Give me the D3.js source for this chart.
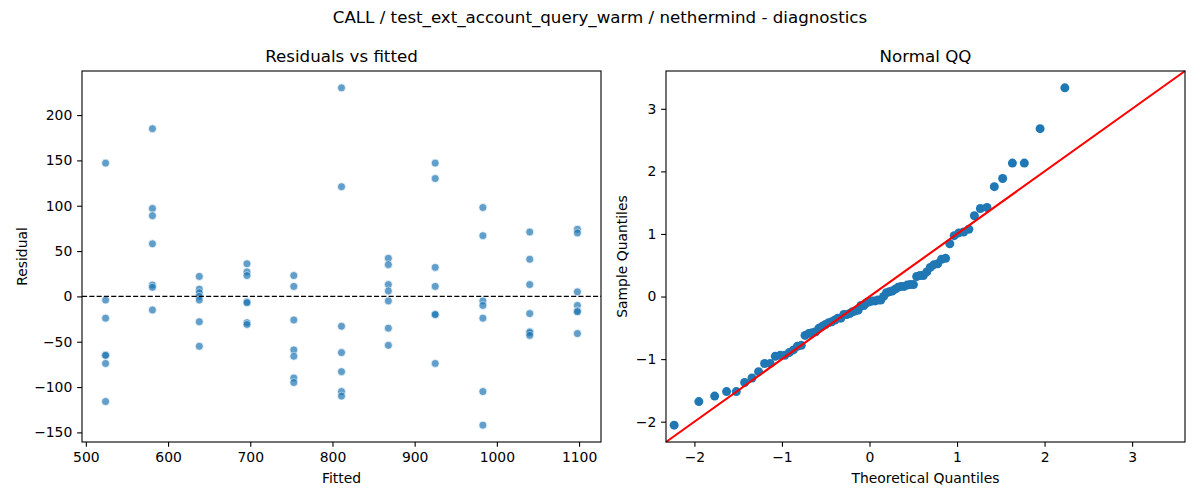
<!DOCTYPE html>
<html>
<head>
<meta charset="utf-8">
<script src="https://cdn.jsdelivr.net/npm/d3@7"></script>
<style>
  html, body { margin: 0; padding: 0; background: #fff; }
  svg { display: block; font-family: "DejaVu Sans", sans-serif; }
</style>
</head>
<body>
<div id="chart"></div>
<script>
// Fitted values, one column of points per level
const fittedLevels = [524, 581, 638, 696, 753, 811, 868, 925, 983, 1040, 1098];

// Residuals, same order as fittedLevels
const residualGroups = [
    [147, -4, -24, -65, -65, -74, -116],
    [185, 97, 89, 58, 12.5, 10, -15],
    [22, 8, 4, 0, -4, -28, -55],
    [36, 27, 23, -6, -7, -29, -31],
    [23, 11, -26, -59, -66, -90, -95],
    [230, 121, -33, -62, -83, -105, -110],
    [42, 35, 13, 6, -5, -35, -54],
    [147, 130, 32, 11, -20, -20, -74],
    [98, 67, -5, -10, -24, -105, -142],
    [71, 41, 13, -19, -39, -40, -43],
    [74, 70, 5, -10, -16, -17, -41]
];

// Tick labels
const fittedTicks = [500, 600, 700, 800, 900, 1000, 1100];
const residualTicks = [-150, -100, -50, 0, 50, 100, 150, 200];
const quantileTicksX = [-2, -1, 0, 1, 2, 3];
const quantileTicksY = [-2, -1, 0, 1, 2, 3];

const suptitle = 'CALL / test_ext_account_query_warm / nethermind - diagnostics';

// Figure layout (px)
const W = 1200, H = 500;
const plotTop = 71, plotBottom = 442;
const leftPanel = { x0: 82, x1: 601 };
const rightPanel = { x0: 666, x1: 1185 };
const tickLen = 4.86, tickPad = 4.86;
const labelSize = 13.9, titleSize = 16.67;
const blue = '#1f77b4';

// Inverse normal CDF (Acklam's approximation)
function normInv(p) {
    const a = [-3.969683028665376e+01, 2.209460984245205e+02, -2.759285104469687e+02,
               1.383577518672690e+02, -3.066479806614716e+01, 2.506628277459239e+00];
    const b = [-5.447609879822406e+01, 1.615858368580409e+02, -1.556989798598866e+02,
               6.680131188771972e+01, -1.328068155288572e+01];
    const c = [-7.784894002430293e-03, -3.223964580411365e-01, -2.400758277161838e+00,
               -2.549732539343734e+00, 4.374664141464968e+00, 2.938163982698783e+00];
    const d = [7.784695709041462e-03, 3.224671290700398e-01, 2.445134137142996e+00,
               3.754408661907416e+00];
    const pLow = 0.02425;
    let q, r;
    if (p < pLow) {
        q = Math.sqrt(-2 * Math.log(p));
        return (((((c[0] * q + c[1]) * q + c[2]) * q + c[3]) * q + c[4]) * q + c[5]) /
               ((((d[0] * q + d[1]) * q + d[2]) * q + d[3]) * q + 1);
    }
    if (p <= 1 - pLow) {
        q = p - 0.5;
        r = q * q;
        return (((((a[0] * r + a[1]) * r + a[2]) * r + a[3]) * r + a[4]) * r + a[5]) * q /
               (((((b[0] * r + b[1]) * r + b[2]) * r + b[3]) * r + b[4]) * r + 1);
    }
    q = Math.sqrt(-2 * Math.log(1 - p));
    return -(((((c[0] * q + c[1]) * q + c[2]) * q + c[3]) * q + c[4]) * q + c[5]) /
            ((((d[0] * q + d[1]) * q + d[2]) * q + d[3]) * q + 1);
}

// matplotlib-style 5% margin around data extent
function padded(extent) {
    const span = extent[1] - extent[0];
    return [extent[0] - 0.05 * span, extent[1] + 0.05 * span];
}

// Flatten residual groups into points
const points = [];
residualGroups.forEach((group, i) => {
    group.forEach(r => points.push({ fitted: fittedLevels[i], resid: r }));
});

// QQ data: standardised sorted residuals vs normal plotting positions
const resid = points.map(p => p.resid);
const mu = d3.mean(resid);
const sigma = Math.sqrt(d3.mean(resid, r => (r - mu) * (r - mu)));
const sorted = resid.slice().sort(d3.ascending);
const n = sorted.length;
const qqPoints = sorted.map((r, i) => ({
    theo: normInv((i + 1) / (n + 1)),
    sample: (r - mu) / sigma
}));

const svg = d3.select('#chart')
    .append('svg')
    .attr('width', W)
    .attr('height', H);

svg.append('text')
    .attr('x', W / 2)
    .attr('y', 23)
    .attr('text-anchor', 'middle')
    .style('font-size', titleSize + 'px')
    .text(suptitle);

function styleAxis(g) {
    g.select('.domain').remove();
    g.selectAll('line').attr('stroke', '#000').attr('stroke-width', 1.1);
    g.selectAll('text').attr('fill', '#000');
    g.attr('font-size', labelSize).attr('font-family', '"DejaVu Sans", sans-serif');
}

function drawFrame(panel, title, xLabel, yLabel, yLabelX) {
    const midX = (panel.x0 + panel.x1) / 2;
    svg.append('rect')
        .attr('x', panel.x0)
        .attr('y', plotTop)
        .attr('width', panel.x1 - panel.x0)
        .attr('height', plotBottom - plotTop)
        .attr('fill', 'none')
        .attr('stroke', '#000')
        .attr('stroke-width', 1.1);

    svg.append('text')
        .attr('x', midX)
        .attr('y', 62)
        .attr('text-anchor', 'middle')
        .style('font-size', titleSize + 'px')
        .text(title);

    svg.append('text')
        .attr('x', midX)
        .attr('y', 483)
        .attr('text-anchor', 'middle')
        .style('font-size', labelSize + 'px')
        .text(xLabel);

    svg.append('text')
        .attr('transform', `translate(${yLabelX}, ${(plotTop + plotBottom) / 2}) rotate(-90)`)
        .attr('text-anchor', 'middle')
        .style('font-size', labelSize + 'px')
        .text(yLabel);
}

// ---------- Residuals vs fitted ----------
const x1 = d3.scaleLinear()
    .domain(padded(d3.extent(points, d => d.fitted)))
    .range([leftPanel.x0, leftPanel.x1]);
const y1 = d3.scaleLinear()
    .domain(padded(d3.extent(points, d => d.resid)))
    .range([plotBottom, plotTop]);

const leftG = svg.append('g');

leftG.selectAll('circle')
    .data(points)
    .enter()
    .append('circle')
    .attr('cx', d => x1(d.fitted))
    .attr('cy', d => y1(d.resid))
    .attr('r', 4)
    .attr('fill', blue)
    .attr('stroke', '#fff')
    .attr('stroke-width', 0.7)
    .attr('opacity', 0.7);

leftG.append('line')
    .attr('x1', leftPanel.x0)
    .attr('x2', leftPanel.x1)
    .attr('y1', y1(0))
    .attr('y2', y1(0))
    .attr('stroke', '#000')
    .attr('stroke-width', 1.1)
    .attr('stroke-dasharray', '5.1,2.2');

svg.append('g')
    .attr('transform', `translate(0, ${plotBottom})`)
    .call(d3.axisBottom(x1).tickValues(fittedTicks).tickSize(tickLen).tickPadding(tickPad).tickFormat(d3.format('d')))
    .call(styleAxis);

svg.append('g')
    .attr('transform', `translate(${leftPanel.x0}, 0)`)
    .call(d3.axisLeft(y1).tickValues(residualTicks).tickSize(tickLen).tickPadding(tickPad).tickFormat(d3.format('d')))
    .call(styleAxis);

drawFrame(leftPanel, 'Residuals vs fitted', 'Fitted', 'Residual', 27);

// ---------- Normal QQ ----------
const qqDomain = padded(d3.extent(qqPoints, d => d.sample));
const x2 = d3.scaleLinear().domain(qqDomain).range([rightPanel.x0, rightPanel.x1]);
const y2 = d3.scaleLinear().domain(qqDomain).range([plotBottom, plotTop]);

const rightG = svg.append('g');

rightG.selectAll('circle')
    .data(qqPoints)
    .enter()
    .append('circle')
    .attr('cx', d => x2(d.theo))
    .attr('cy', d => y2(d.sample))
    .attr('r', 4.5)
    .attr('fill', blue);

// 45 degree reference line
rightG.append('line')
    .attr('x1', x2(qqDomain[0]))
    .attr('y1', y2(qqDomain[0]))
    .attr('x2', x2(qqDomain[1]))
    .attr('y2', y2(qqDomain[1]))
    .attr('stroke', 'red')
    .attr('stroke-width', 2.08);

svg.append('g')
    .attr('transform', `translate(0, ${plotBottom})`)
    .call(d3.axisBottom(x2).tickValues(quantileTicksX).tickSize(tickLen).tickPadding(tickPad).tickFormat(d3.format('d')))
    .call(styleAxis);

svg.append('g')
    .attr('transform', `translate(${rightPanel.x0}, 0)`)
    .call(d3.axisLeft(y2).tickValues(quantileTicksY).tickSize(tickLen).tickPadding(tickPad).tickFormat(d3.format('d')))
    .call(styleAxis);

drawFrame(rightPanel, 'Normal QQ', 'Theoretical Quantiles', 'Sample Quantiles', 627);
</script>
</body>
</html>
